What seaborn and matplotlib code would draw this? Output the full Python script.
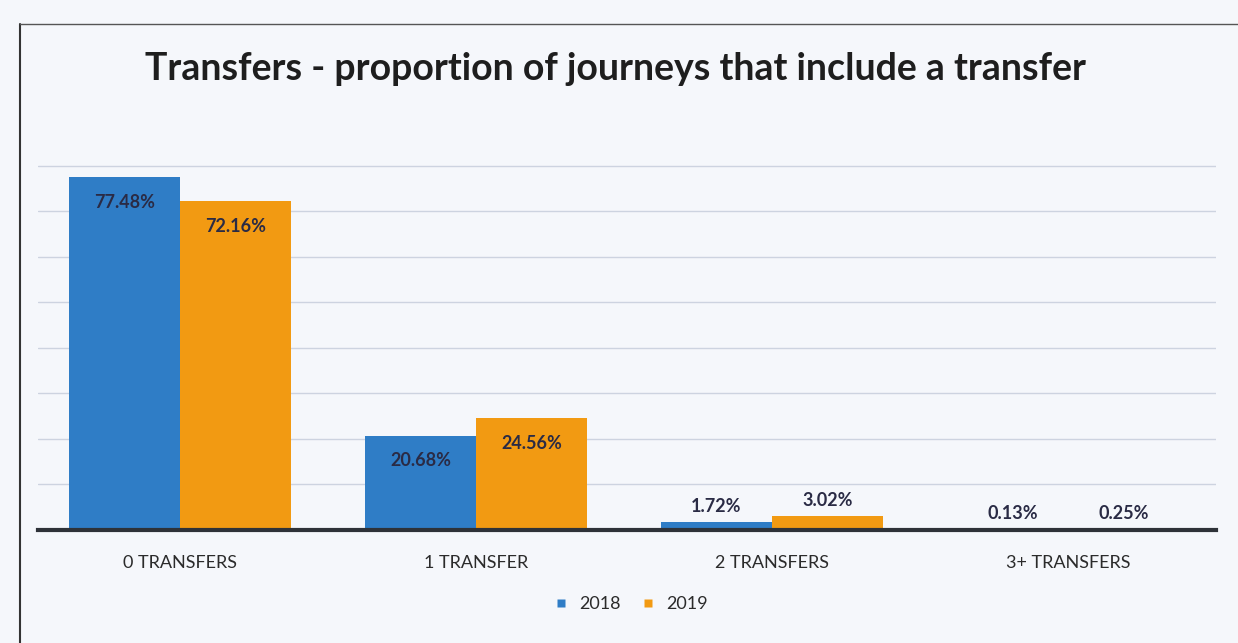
import matplotlib
matplotlib.use("Agg")
import matplotlib.pyplot as plt
import seaborn as sns
import pandas as pd
from matplotlib.lines import Line2D

# Share of journeys by number of transfers (%)
categories = ["0 TRANSFERS", "1 TRANSFER", "2 TRANSFERS", "3+ TRANSFERS"]
years = ["2018", "2019"]
share_2018 = [77.48, 20.68, 1.72, 0.13]
share_2019 = [72.16, 24.56, 3.02, 0.25]

df = pd.DataFrame({
    "category": categories * 2,
    "year": [years[0]] * 4 + [years[1]] * 4,
    "share": share_2018 + share_2019,
})

sns.set_theme(style="white")
plt.rcParams["font.family"] = ["Lato", "DejaVu Sans"]

palette = {"2018": "#2F7DC6", "2019": "#F29A12"}
label_color = "#2A2B45"

fig = plt.figure(figsize=(12.38, 6.43), dpi=100, facecolor="#F5F7FB")
ax = fig.add_axes([0.031, 0.176, 0.951, 0.637])
ax.set_facecolor("none")

sns.barplot(data=df, x="category", y="share", hue="year", order=categories,
            hue_order=years, palette=palette, width=0.75, saturation=1,
            edgecolor="none", ax=ax, legend=False)

ax.set_xlim(-0.48, 3.5)
ax.set_ylim(0, 90)
ax.set_yticks(range(0, 81, 10))
ax.yaxis.grid(True, color="#CDD3E0", linewidth=1.0)
ax.set_axisbelow(True)
ax.tick_params(axis="y", left=False, labelleft=False)
ax.tick_params(axis="x", bottom=False, labelsize=13, colors="#2B2B2B", pad=12)
ax.set_xlabel("")
ax.set_ylabel("")
for side in ("top", "right", "left"):
    ax.spines[side].set_visible(False)
ax.spines["bottom"].set_color("#2E3238")
ax.spines["bottom"].set_linewidth(3)

# Value labels: inside the top of tall bars, just above short ones
for container in ax.containers:
    for bar in container:
        h = bar.get_height()
        x = bar.get_x() + bar.get_width() / 2
        offset = -18 if h >= 10 else 11
        ax.annotate(f"{h:.2f}%", (x, h), xytext=(0, offset), textcoords="offset points",
                    ha="center", va="center", fontsize=13, fontweight="bold",
                    color=label_color)

fig.text(0.497, 0.893, "Transfers - proportion of journeys that include a transfer",
         ha="center", va="center", fontsize=27, fontweight="bold", color="#1E1E1E")

handles = [Line2D([0], [0], marker="s", linestyle="none", markersize=6,
                  markerfacecolor=palette[y], markeredgecolor="none") for y in years]
fig.legend(handles, years, loc="center", bbox_to_anchor=(0.505, 0.06), ncol=2,
           frameon=False, fontsize=13, handletextpad=0.0, columnspacing=0.5,
           labelcolor="#2B2B2B")

# Outer chart frame
fig.add_artist(Line2D([0.016, 0.016], [0.0, 0.962], transform=fig.transFigure,
                      color="#333333", linewidth=1.5))
fig.add_artist(Line2D([0.016, 1.0], [0.962, 0.962], transform=fig.transFigure,
                      color="#555555", linewidth=1.0))

fig.savefig("out.png", dpi=100, facecolor=fig.get_facecolor())
